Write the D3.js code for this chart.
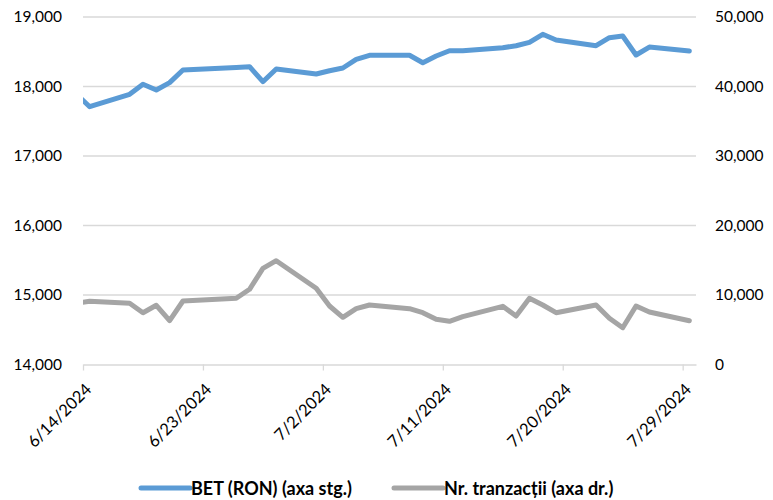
<!DOCTYPE html>
<html>
<head>
<meta charset="utf-8">
<script src="https://cdn.jsdelivr.net/npm/d3@7"></script>
<style>
  html, body { margin: 0; padding: 0; background: #fff; }
  svg { display: block; font-family: Lato, "Open Sans", sans-serif; }
</style>
</head>
<body>
<svg id="chart" width="773" height="500"></svg>
<script>
// ---- data ----
const dates = [
  "2024-06-13","2024-06-14","2024-06-17","2024-06-18","2024-06-19","2024-06-20","2024-06-21",
  "2024-06-25","2024-06-26","2024-06-27","2024-06-28",
  "2024-07-01","2024-07-02","2024-07-03","2024-07-04","2024-07-05",
  "2024-07-08","2024-07-09","2024-07-10","2024-07-11","2024-07-12",
  "2024-07-15","2024-07-16","2024-07-17","2024-07-18","2024-07-19",
  "2024-07-22","2024-07-23","2024-07-24","2024-07-25","2024-07-26",
  "2024-07-29"
];
const betValues = [
  17890, 17709, 17888, 18032, 17950, 18055, 18237,
  18275, 18285, 18069, 18252,
  18180, 18227, 18266, 18391, 18449,
  18449, 18342, 18439, 18515, 18515,
  18558, 18587, 18636, 18751, 18669,
  18587, 18702, 18727, 18453, 18568,
  18511
];
const tradesValues = [
  8835, 9094, 8806, 7453, 8518, 6302, 9137,
  9525, 10820, 13842, 14935,
  10964, 8417, 6791, 8029, 8561,
  8029, 7453, 6504, 6216, 6878,
  8374, 6978, 9525, 8561, 7453,
  8561, 6647, 5295, 8417, 7554,
  6302
];
const tickDates = ["2024-06-14","2024-06-23","2024-07-02","2024-07-11","2024-07-20","2024-07-29"];
const leftTicks = [14000, 15000, 16000, 17000, 18000, 19000];
const rightTicks = [0, 10000, 20000, 30000, 40000, 50000];
const seriesNames = ["BET (RON) (axa stg.)", "Nr. tranzacții (axa dr.)"];
const seriesColors = ["#5B9BD5", "#A5A5A5"];

// ---- layout ----
const svg = d3.select("#chart");
const parse = d3.utcParse("%Y-%m-%d");
const fmtTick = d3.utcFormat("%-m/%-d/%Y");
const plot = { left: 83, right: 696, top: 17, bottom: 364.5 };

const x = d3.scaleUtc()
  .domain([parse("2024-06-14"), parse("2024-07-30")])
  .range([plot.left, plot.right]);
const yL = d3.scaleLinear().domain([14000, 19000]).range([plot.bottom, plot.top]);
const yR = d3.scaleLinear().domain([0, 50000]).range([plot.bottom, plot.top]);

const ptX = d => x(d3.utcHour.offset(parse(d), 12));

// gridlines
svg.append("g")
  .selectAll("line")
  .data(leftTicks.filter(t => t !== 14000))
  .join("line")
  .attr("x1", plot.left).attr("x2", plot.right)
  .attr("y1", d => yL(d)).attr("y2", d => yL(d))
  .attr("stroke", "#D9D9D9").attr("stroke-width", 1.3);

// bottom axis
const xAxis = d3.axisBottom(x)
  .tickValues(tickDates.map(parse))
  .tickSize(6)
  .tickSizeOuter(0)
  .tickFormat(fmtTick);
const gx = svg.append("g").attr("transform", `translate(0,${plot.bottom})`).call(xAxis);
gx.select(".domain").attr("stroke", "#D9D9D9").attr("stroke-width", 1.3);
gx.selectAll(".tick line").attr("stroke", "#D9D9D9").attr("stroke-width", 1.3);
gx.selectAll(".tick text")
  .attr("font-family", "Lato, sans-serif")
  .attr("font-size", 16.5)
  .attr("fill", "#000")
  .attr("text-anchor", "end")
  .attr("x", 0).attr("y", 0).attr("dy", 0)
  .attr("transform", "translate(9,26) rotate(-45)");

// left axis
const gl = svg.append("g").attr("transform", `translate(${plot.left},0)`)
  .call(d3.axisLeft(yL).tickValues(leftTicks).tickSize(0).tickPadding(21).tickFormat(d3.format(",")));
gl.select(".domain").remove();
gl.selectAll(".tick text").attr("font-family", "Lato, sans-serif").attr("font-size", 15.5).attr("fill", "#000");

// right axis
const gr = svg.append("g").attr("transform", `translate(${plot.right},0)`)
  .call(d3.axisRight(yR).tickValues(rightTicks).tickSize(0).tickPadding(19).tickFormat(d3.format(",")));
gr.select(".domain").remove();
gr.selectAll(".tick text").attr("font-family", "Lato, sans-serif").attr("font-size", 15.5).attr("fill", "#000");

// clip
svg.append("clipPath").attr("id", "clip")
  .append("rect").attr("x", plot.left).attr("y", 0)
  .attr("width", plot.right - plot.left).attr("height", 420);

const lineL = d3.line().x((d, i) => ptX(dates[i])).y(d => yL(d));
const lineR = d3.line().x((d, i) => ptX(dates[i])).y(d => yR(d));

const gLines = svg.append("g").attr("clip-path", "url(#clip)");
gLines.append("path").datum(tradesValues)
  .attr("d", lineR).attr("fill", "none")
  .attr("stroke", seriesColors[1]).attr("stroke-width", 5)
  .attr("stroke-linejoin", "round").attr("stroke-linecap", "round");
gLines.append("path").datum(betValues)
  .attr("d", lineL).attr("fill", "none")
  .attr("stroke", seriesColors[0]).attr("stroke-width", 5)
  .attr("stroke-linejoin", "round").attr("stroke-linecap", "round");

// legend
const legendItems = [
  { name: seriesNames[0], color: seriesColors[0], x1: 141, x2: 190, tx: 191 },
  { name: seriesNames[1], color: seriesColors[1], x1: 394, x2: 443, tx: 444 }
];
const lg = svg.append("g");
legendItems.forEach(it => {
  lg.append("line").attr("x1", it.x1).attr("x2", it.x2).attr("y1", 488).attr("y2", 488)
    .attr("stroke", it.color).attr("stroke-width", 5).attr("stroke-linecap", "round");
  lg.append("text").attr("x", it.tx).attr("y", 494.5)
    .attr("font-family", "Lato, sans-serif").attr("font-weight", "bold")
    .attr("font-size", 18).attr("fill", "#000").text(it.name);
});
</script>
</body>
</html>
